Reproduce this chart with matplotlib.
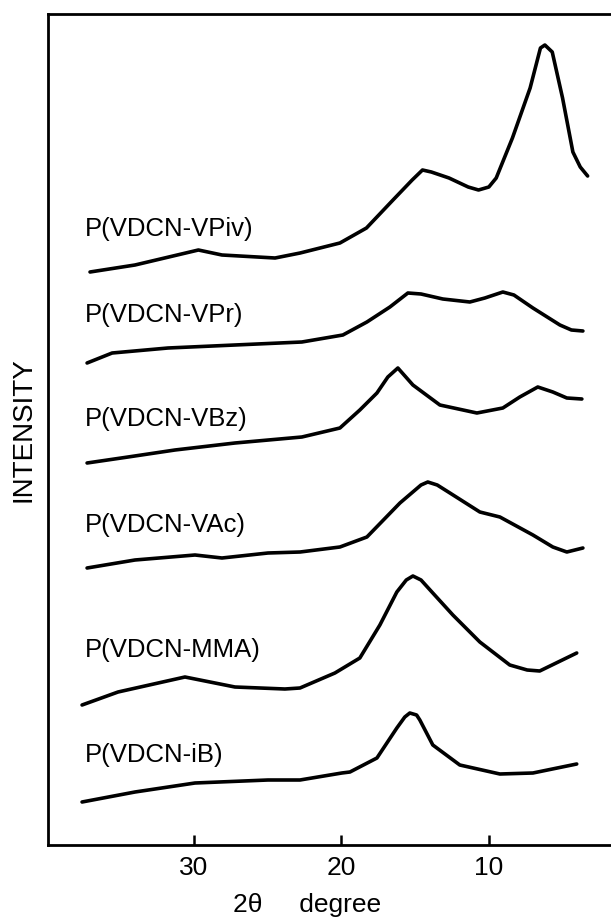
import matplotlib
matplotlib.use("Agg")
import matplotlib.pyplot as plt

plt.rcParams['font.family'] = ['Liberation Sans', 'DejaVu Sans']

# ---- data (2theta in degrees, intensity in arbitrary offset units) ----
tt_vpiv = [37.05, 34.0, 29.7, 28.1, 24.5, 22.8, 20.1, 18.3, 16.5, 15.2, 14.5, 13.9, 12.7, 11.4, 10.7, 10.0, 9.5, 8.4, 7.2, 6.5, 6.2, 5.7, 5.0, 4.3, 3.8, 3.3]
in_vpiv = [573, 580, 595, 590, 587, 592, 602, 617, 645, 665, 675, 673, 667, 658, 655, 658, 667, 707, 757, 797, 800, 793, 747, 693, 678, 669]

tt_vpr = [37.25, 36.4, 35.55, 31.76, 27.22, 22.68, 19.9, 18.27, 16.71, 15.49, 14.6, 13.12, 11.29, 10.27, 9.05, 8.3, 7.01, 5.18, 4.4, 3.62]
in_vpr = [482, 487, 492, 497, 500, 503, 510, 523, 538, 552, 551, 546, 543, 547, 553, 550, 537, 520, 515, 514]

tt_vbz = [37.25, 34.47, 31.29, 27.22, 22.68, 20.1, 18.75, 17.59, 16.85, 16.17, 15.15, 13.32, 10.81, 9.05, 7.9, 6.68, 5.66, 4.71, 3.69]
in_vbz = [382, 388, 395, 402, 408, 417, 435, 452, 468, 477, 460, 440, 432, 437, 448, 458, 453, 447, 446]

tt_vac = [37.25, 34.0, 29.93, 28.1, 24.98, 22.8, 20.1, 18.27, 16.03, 14.6, 14.14, 13.5, 12.64, 10.61, 9.25, 7.01, 5.66, 4.71, 3.62]
in_vac = [277, 285, 290, 287, 292, 293, 298, 308, 342, 360, 363, 360, 352, 333, 328, 310, 298, 293, 297]

tt_mma = [37.59, 35.15, 30.61, 27.22, 23.83, 22.81, 20.44, 18.75, 17.39, 16.24, 15.6, 15.15, 14.6, 13.8, 12.44, 10.61, 8.58, 7.4, 6.55, 4.04]
in_mma = [140, 153, 168, 158, 156, 157, 172, 187, 220, 253, 265, 269, 265, 252, 230, 203, 180, 175, 174, 192]

tt_ib = [37.59, 34.0, 29.93, 24.98, 22.81, 19.97, 19.42, 17.59, 16.24, 15.7, 15.36, 14.9, 14.68, 13.8, 11.97, 9.25, 7.01, 4.04]
in_ib = [43, 53, 62, 65, 65, 72, 73, 87, 117, 128, 132, 130, 125, 100, 80, 71, 72, 81]

series_names = ["P(VDCN-VPiv)", "P(VDCN-VPr)", "P(VDCN-VBz)", "P(VDCN-VAc)", "P(VDCN-MMA)", "P(VDCN-iB)"]
label_x = [37.4, 37.4, 37.4, 37.4, 37.4, 37.4]
label_y = [628, 542, 438, 332, 207, 102]

xticks = [30, 20, 10]
xlabel = "2θ     degree"
ylabel = "INTENSITY"

# ---- figure ----
W, H = 611, 917
fig = plt.figure(figsize=(W / 100, H / 100), dpi=100)
ax = fig.add_axes([48 / W, (H - 845) / H, (W - 48) / W + 0.01, (845 - 14) / H])

xs = [tt_vpiv, tt_vpr, tt_vbz, tt_vac, tt_mma, tt_ib]
ys = [in_vpiv, in_vpr, in_vbz, in_vac, in_mma, in_ib]
for x, y in zip(xs, ys):
    ax.plot(x, y, color='black', lw=2.6, solid_capstyle='round', solid_joinstyle='round')

for name, lx, ly in zip(series_names, label_x, label_y):
    ax.text(lx, ly, name, fontsize=18.5, ha='left', va='top', color='black')

ax.set_xlim(39.9, 1.3)
ax.set_ylim(0, 831)
ax.set_xticks(xticks)
ax.set_xticklabels([str(t) for t in xticks])
ax.set_yticks([])
ax.tick_params(axis='x', direction='in', length=7, width=1.8, labelsize=19, pad=8)
for s in ['left', 'bottom', 'top']:
    ax.spines[s].set_linewidth(2.0)
ax.spines['right'].set_visible(False)

ax.set_xlabel(xlabel, fontsize=19, labelpad=6)
ax.xaxis.set_label_coords(0.455, -0.058)
ax.set_ylabel(ylabel, fontsize=20, labelpad=8)

fig.savefig("out.png", dpi=100)
